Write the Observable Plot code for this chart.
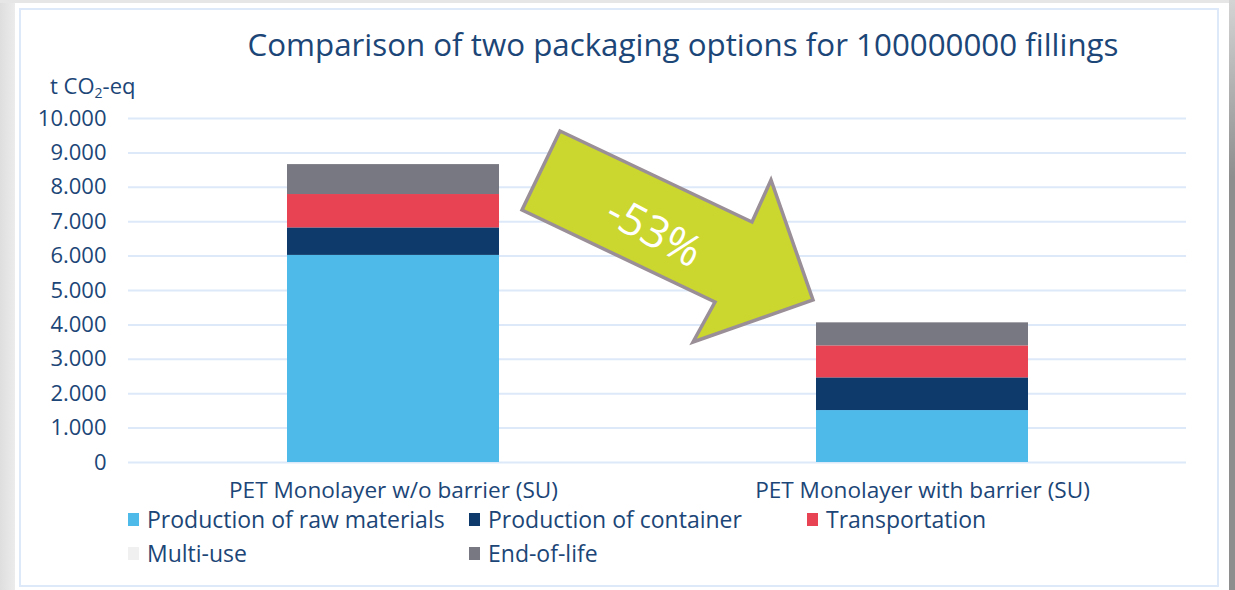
<!DOCTYPE html>
<html>
<head>
<meta charset="utf-8">
<script src="https://cdn.jsdelivr.net/npm/d3@7"></script>
<script src="https://cdn.jsdelivr.net/npm/@observablehq/plot@0.6"></script>
<style>
  html, body { margin: 0; padding: 0; }
  body { width: 1235px; height: 590px; overflow: hidden; background: linear-gradient(to right, #dedede 0px, #ececec 15px); font-family: "Open Sans", sans-serif; }
  #wrap { position: relative; width: 1235px; height: 590px; }
  #rightStrip { position: absolute; left: 1229px; top: 0; width: 6px; height: 590px; background: linear-gradient(to bottom, #d4d4d4, #8e8e8e 30%, #8e8e8e); }
  #topStrip { position: absolute; left: 0; top: 0; width: 1235px; height: 3px; background: #e6e6e6; }
  #frame { position: absolute; left: 15px; top: 3px; width: 1214px; height: 590px; background: #fff; }
  #border { position: absolute; left: 19px; top: 8px; width: 1200px; height: 579px; border: 2px solid #dde9f8; box-sizing: border-box; }
  #title { position: absolute; left: 0; width: 1366px; top: 23px; text-align: center; font-size: 31.3px; color: #1c4677; white-space: nowrap; }
  #ylabel { position: absolute; left: 50px; top: 70px; font-size: 22px; color: #1c4677; white-space: nowrap; }
  #ylabel sub { font-size: 14px; vertical-align: -4px; line-height: 0; }
  #chart { position: absolute; left: 0; top: 60px; }
  #legend { position: absolute; left: 128px; top: 502px; display: grid; grid-template-columns: 341px 338px auto; grid-auto-rows: 34px; font-size: 23px; line-height: 1; color: #1c4677; }
  .item { display: flex; align-items: center; white-space: nowrap; }
  .sw { display: inline-block; width: 11px; height: 13px; margin-right: 8px; }
  #overlay { position: absolute; left: 0; top: 0; pointer-events: none; }
</style>
</head>
<body>
<div id="wrap">
  <div id="topStrip"></div>
  <div id="rightStrip"></div>
  <div id="frame"></div>
  <div id="border"></div>
  <div id="title"></div>
  <div id="ylabel">t CO<sub>2</sub>-eq</div>
  <div id="chart"></div>
  <div id="legend"></div>
</div>
<script>
// ---- Data ----
const chartTitle = "Comparison of two packaging options for 100000000 fillings";
const categories = ["PET Monolayer w/o barrier (SU)", "PET Monolayer with barrier (SU)"];
const stages = ["Production of raw materials", "Production of container", "Transportation", "Multi-use", "End-of-life"];
const rawMaterials = [6020, 1510];
const container = [800, 950];
const transportation = [970, 930];
const multiUse = [0, 0];
const endOfLife = [870, 670];
const yTicks = [0, 1000, 2000, 3000, 4000, 5000, 6000, 7000, 8000, 9000, 10000];

// ---- Styles ----
const stageColors = ["#4ebaea", "#0e3a6b", "#e84352", "#f0f0f0", "#787882"];
const textColor = "#1c4677";

const seriesByStage = [rawMaterials, container, transportation, multiUse, endOfLife];
const rows = [];
categories.forEach((c, i) => {
  stages.forEach((s, j) => rows.push({category: c, stage: s, value: seriesByStage[j][i]}));
});

const locale = d3.formatLocale({decimal: ",", thousands: ".", grouping: [3], currency: ["", "€"]});
const fmt = locale.format(",d");

document.getElementById("title").textContent = chartTitle;

const chart = Plot.plot({
  width: 1235,
  height: 460,
  marginLeft: 128,
  marginRight: 49,
  marginTop: 58,
  marginBottom: 58,
  style: {fontFamily: "'Open Sans', sans-serif", fontSize: "23px", color: textColor, background: "transparent", overflow: "visible"},
  x: {domain: categories, paddingInner: 0.6, paddingOuter: 0.3, label: null},
  y: {domain: [0, 10000], label: null},
  color: {domain: stages, range: stageColors},
  marks: [
    Plot.gridY(yTicks, {stroke: "#dde9f8", strokeOpacity: 1, strokeWidth: 2}),
    Plot.barY(rows, {x: "category", y: "value", fill: "stage", order: stages, inset: 0}),
    Plot.axisY(yTicks, {tickSize: 0, tickPadding: 22, tickFormat: fmt, label: null, fill: textColor, fontSize: 22}),
    Plot.axisX({tickSize: 0, tickPadding: 19, label: null, fill: textColor, fontSize: 22.6})
  ]
});
document.getElementById("chart").appendChild(chart);

// ---- Legend ----
const legend = document.getElementById("legend");
[0, 1, 2, 3, 4].forEach(j => {
  const it = document.createElement("div");
  it.className = "item";
  if (j === 4) it.style.gridColumn = "2";
  const sw = document.createElement("span");
  sw.className = "sw";
  sw.style.background = stageColors[j];
  it.appendChild(sw);
  it.appendChild(document.createTextNode(stages[j]));
  legend.appendChild(it);
});

// ---- Arrow annotation ----
const totals = categories.map((c, i) => d3.sum(seriesByStage, s => s[i]));
const change = Math.round((totals[1] / totals[0] - 1) * 100);
const svg = d3.select("#wrap").append("svg")
  .attr("id", "overlay").attr("width", 1235).attr("height", 590);
svg.append("polygon")
  .attr("points", [[560,131],[752,222],[771,180],[813,300],[693,342],[715,302],[522,210]].map(p => p.join(",")).join(" "))
  .attr("fill", "#cbd62e")
  .attr("stroke", "#9a8f97")
  .attr("stroke-width", 3.5)
  .attr("stroke-linejoin", "miter");
svg.append("text")
  .attr("transform", "translate(655,230) rotate(28)")
  .attr("text-anchor", "middle")
  .attr("dominant-baseline", "central")
  .attr("fill", "#fff")
  .attr("font-family", "'Open Sans', sans-serif")
  .attr("font-size", 44)
  .text(change + "%");
</script>
</body>
</html>
